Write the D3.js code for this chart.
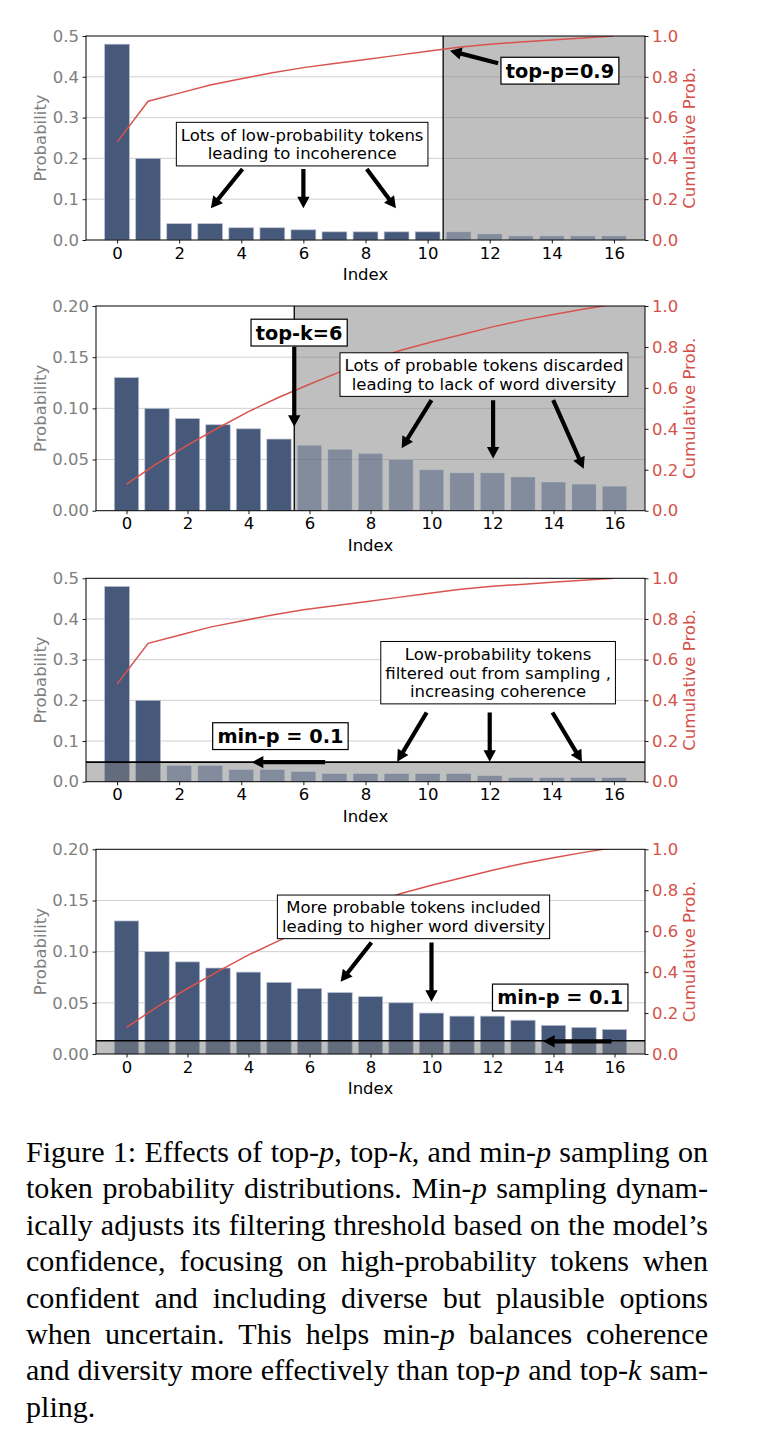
<!DOCTYPE html>
<html><head><meta charset="utf-8">
<script src="https://cdn.jsdelivr.net/npm/d3@7"></script>
<style>body{margin:0;background:#fff}svg{display:block}</style>
</head><body>
<svg id="c" width="764" height="1450"></svg>
<script>
// ---------------- data ----------------
const tokenIndex = [0,1,2,3,4,5,6,7,8,9,10,11,12,13,14,15,16];
const probPeaked = [0.48,0.20,0.04,0.04,0.03,0.03,0.025,0.02,0.02,0.02,0.02,0.02,0.015,0.01,0.01,0.01,0.01];
const probFlat   = [0.13,0.10,0.09,0.084,0.08,0.07,0.064,0.06,0.056,0.05,0.04,0.037,0.037,0.033,0.028,0.026,0.024];
const xTickValues = [0,2,4,6,8,10,12,14,16];
const yTicksPeaked = [0,0.1,0.2,0.3,0.4,0.5];
const yTicksFlat = [0,0.05,0.10,0.15,0.20];
const yTicksCum = [0,0.2,0.4,0.6,0.8,1.0];
const topP = 0.9, topK = 6, minP = 0.1;

const captionLines = [
  "Figure 1: Effects of top-{p}, top-{k}, and min-{p} sampling on",
  "token probability distributions. Min-{p} sampling dynam-",
  "ically adjusts its filtering threshold based on the model’s",
  "confidence, focusing on high-probability tokens when",
  "confident and including diverse but plausible options",
  "when uncertain. This helps min-{p} balances coherence",
  "and diversity more effectively than top-{p} and top-{k} sam-",
  "pling."
];

// ---------------- style ----------------
const FONT = "DejaVu Sans, sans-serif";
const NAVY = "#46597a";
const RED = "#d4524a";
const svg = d3.select("#c");

const panels = [
  { box:{l:86,r:645,t:36,b:240}, probs:probPeaked, yMax:0.5, yTicks:yTicksPeaked, fmt:d3.format(".1f"),
    keep:i=>i<=10, vshade:10.5,
    notes:[{text:["Lots of low-probability tokens","leading to incoherence"], x:5.96, y:0.235}],
    labels:[{text:"top-p=0.9", x:14.26, y:0.415}],
    arrows:[[4.04,0.174,3.02,0.078],[6.0,0.174,6.0,0.078],[8.04,0.174,8.98,0.078],[12.27,0.433,10.72,0.464]] },
  { box:{l:96,r:645,t:306,b:510.7}, probs:probFlat, yMax:0.2, yTicks:yTicksFlat, fmt:d3.format(".2f"),
    keep:i=>i<topK, vshade:topK-0.5,
    notes:[{text:["Lots of probable tokens discarded","leading to lack of word diversity"], x:11.72, y:0.133}],
    labels:[{text:"top-k=6", x:5.66, y:0.174}],
    arrows:[[5.5,0.160,5.5,0.082],[10.0,0.108,9.02,0.061],[12.02,0.108,12.02,0.051],[13.99,0.108,14.99,0.041]] },
  { box:{l:86,r:645,t:578.3,b:781.7}, probs:probPeaked, yMax:0.5, yTicks:yTicksPeaked, fmt:d3.format(".1f"),
    hshade:minP*d3.max(probPeaked), keepMin:true,
    notes:[{text:["Low-probability tokens","filtered out from sampling ,","increasing coherence"], x:12.27, y:0.268}],
    labels:[{text:"min-p = 0.1", x:5.26, y:0.112}],
    arrows:[[6.7,0.048,4.34,0.048],[9.97,0.17,9.02,0.049],[12.0,0.17,12.0,0.049],[14.02,0.17,14.97,0.049]] },
  { box:{l:96,r:645,t:849.3,b:1054}, probs:probFlat, yMax:0.2, yTicks:yTicksFlat, fmt:d3.format(".2f"),
    hshade:minP*d3.max(probFlat), keepMin:true,
    notes:[{text:["More probable tokens included","leading to higher word diversity"], x:9.41, y:0.134}],
    labels:[{text:"min-p = 0.1", x:14.22, y:0.0552}],
    arrows:[[8.03,0.109,7.02,0.0706],[10.0,0.109,10.0,0.051],[15.9,0.0124,13.66,0.0124]] }
];

function drawArrow(g, x1, y1, x2, y2){
  const dx=x2-x1, dy=y2-y1, L=Math.hypot(dx,dy), ux=dx/L, uy=dy/L, px=-uy, py=ux;
  const hl=11.5, hw=6.2, sw=2.1;
  const bx=x2-ux*hl, by=y2-uy*hl;
  const pts=[[x1+px*sw,y1+py*sw],[bx+px*sw,by+py*sw],[bx+px*hw,by+py*hw],[x2,y2],
             [bx-px*hw,by-py*hw],[bx-px*sw,by-py*sw],[x1-px*sw,y1-py*sw]];
  g.append("polygon").attr("points",pts.map(p=>p.join(",")).join(" ")).attr("fill","#000");
}

panels.forEach((P, pi) => {
  const {l,r,t,b} = P.box;
  const x = d3.scaleLinear().domain([-1,17]).range([l,r]);
  const y = d3.scaleLinear().domain([0,P.yMax]).range([b,t]);
  const yc = d3.scaleLinear().domain([0,1]).range([b,t]);
  const g = svg.append("g");
  const cid = "clip"+pi;
  svg.append("clipPath").attr("id",cid).append("rect").attr("x",l).attr("y",t).attr("width",r-l).attr("height",b-t);
  const keep = P.keepMin ? (i => P.probs[i] >= P.hshade) : P.keep;

  // grid
  g.append("g").selectAll("line").data(P.yTicks.slice(1,-1)).join("line")
    .attr("x1",l).attr("x2",r).attr("y1",d=>y(d)).attr("y2",d=>y(d))
    .attr("stroke","#d0d0d0").attr("stroke-width",1);

  const bw = 0.8;
  g.append("g").selectAll("rect").data(tokenIndex.filter(i=>keep(i))).join("rect")
    .attr("x",d=>x(d-bw/2)).attr("width",x(bw)-x(0))
    .attr("y",d=>y(P.probs[d])).attr("height",d=>y(0)-y(P.probs[d]))
    .attr("fill",NAVY).attr("stroke","#b9c3d3").attr("stroke-width",0.7);

  // shade overlay
  if (P.vshade !== undefined){
    g.append("rect").attr("x",x(P.vshade)).attr("y",t).attr("width",r-x(P.vshade)).attr("height",b-t)
      .attr("fill","#808080").attr("fill-opacity",0.5);
  }
  if (P.hshade !== undefined){
    g.append("rect").attr("x",l).attr("y",y(P.hshade)).attr("width",r-l).attr("height",b-y(P.hshade))
      .attr("fill","#808080").attr("fill-opacity",0.5);
  }
  // excluded bars
  g.append("g").selectAll("rect").data(tokenIndex.filter(i=>!keep(i))).join("rect")
    .attr("x",d=>x(d-bw/2)).attr("width",x(bw)-x(0))
    .attr("y",d=>y(P.probs[d])).attr("height",d=>y(0)-y(P.probs[d]))
    .attr("fill",NAVY).attr("fill-opacity",0.5).attr("stroke","#c4cad4").attr("stroke-opacity",0.5).attr("stroke-width",0.7);

  // threshold lines
  if (P.vshade !== undefined){
    g.append("line").attr("x1",x(P.vshade)).attr("x2",x(P.vshade)).attr("y1",t).attr("y2",b).attr("stroke","#000").attr("stroke-width",1.3);
  }
  if (P.hshade !== undefined){
    g.append("line").attr("x1",l).attr("x2",r).attr("y1",y(P.hshade)).attr("y2",y(P.hshade)).attr("stroke","#000").attr("stroke-width",1.6);
  }

  // cumulative line
  const cum = d3.cumsum(P.probs);
  g.append("path").attr("clip-path",`url(#${cid})`)
    .attr("d", d3.line().x((d,i)=>x(tokenIndex[i])).y(d=>yc(d))(Array.from(cum)))
    .attr("fill","none").attr("stroke","#d9534f").attr("stroke-width",1.5);

  // spines
  g.append("rect").attr("x",l).attr("y",t).attr("width",r-l).attr("height",b-t)
    .attr("fill","none").attr("stroke","#000").attr("stroke-width",1);

  // axes
  const ax = g.append("g").attr("transform",`translate(0,${b})`)
    .call(d3.axisBottom(x).tickValues(xTickValues).tickFormat(d3.format("d")).tickSize(3.5).tickPadding(3.5).tickSizeOuter(0));
  const ayl = g.append("g").attr("transform",`translate(${l},0)`)
    .call(d3.axisLeft(y).tickValues(P.yTicks).tickFormat(P.fmt).tickSize(3.5).tickPadding(3.5).tickSizeOuter(0));
  const ayr = g.append("g").attr("transform",`translate(${r},0)`)
    .call(d3.axisRight(yc).tickValues(yTicksCum).tickFormat(d3.format(".1f")).tickSize(3.5).tickPadding(3.5).tickSizeOuter(0));
  [ax,ayl,ayr].forEach(a=>{
    a.select(".domain").remove();
    a.selectAll("line").attr("stroke","#000").attr("stroke-width",0.9);
    a.selectAll("text").attr("font-family",FONT).attr("font-size","16.5px");
  });
  ax.selectAll("text").attr("fill","#000");
  ayl.selectAll("text").attr("fill","#7f7f7f");
  ayr.selectAll("text").attr("fill",RED);

  // axis labels
  g.append("text").attr("x",(l+r)/2).attr("y",b+40).attr("text-anchor","middle")
    .attr("font-family",FONT).attr("font-size","16.5px").attr("fill","#000").text("Index");
  g.append("text").attr("transform",`translate(40,${(t+b)/2}) rotate(-90)`).attr("text-anchor","middle").attr("dy","0.35em")
    .attr("font-family",FONT).attr("font-size","16.5px").attr("fill","#7f7f7f").text("Probability");
  g.append("text").attr("transform",`translate(689,${(t+b)/2}) rotate(-90)`).attr("text-anchor","middle").attr("dy","0.35em")
    .attr("font-family",FONT).attr("font-size","16.5px").attr("fill",RED).text("Cumulative Prob.");

  // arrows
  P.arrows.forEach(a => drawArrow(g, x(a[0]), y(a[1]), x(a[2]), y(a[3])));

  // text notes
  P.notes.forEach(n => {
    const cx = x(n.x), cy = y(n.y), lh = 18.8, nl = n.text.length;
    const ng = g.append("g");
    const bg = ng.append("rect");
    const tx = ng.append("text").attr("font-family",FONT).attr("font-size","16.5px").attr("text-anchor","middle").attr("fill","#000");
    n.text.forEach((s,k)=>{
      tx.append("tspan").attr("x",cx).attr("y",cy+(k-(nl-1)/2)*lh).attr("dy","0.36em").text(s);
    });
    const bb = tx.node().getBBox();
    const w = bb.width + 9, h = nl*lh + 6;
    bg.attr("x",cx-w/2).attr("y",cy-h/2).attr("width",w).attr("height",h).attr("fill","#fff").attr("stroke","#000").attr("stroke-width",1);
  });
  P.labels.forEach(n => {
    const cx = x(n.x), cy = y(n.y);
    const ng = g.append("g");
    const bg = ng.append("rect");
    const tx = ng.append("text").attr("x",cx).attr("y",cy).attr("dy","0.36em").attr("text-anchor","middle")
      .attr("font-family",FONT).attr("font-size","19.3px").attr("font-weight","bold").attr("fill","#000").text(n.text);
    const bb = tx.node().getBBox();
    const w = bb.width + 9.5, h = 26.8;
    bg.attr("x",cx-w/2).attr("y",cy-h/2).attr("width",w).attr("height",h).attr("fill","#fff").attr("stroke","#000").attr("stroke-width",1.2);
  });
});

// ---------------- caption ----------------
const CAP_FONT = "Liberation Serif, Times New Roman, serif";
const capL = 26, capR = 708, capBase = 1162, capLH = 36.4;
const capG = svg.append("g");
function addWord(parent, word, size){
  const tx = parent.append("text").attr("font-family",CAP_FONT).attr("font-size",size+"px").attr("fill","#000");
  const parts = word.split(/(\{[^}]*\})/).filter(s=>s.length);
  parts.forEach(p=>{
    if (p.startsWith("{")) tx.append("tspan").attr("font-style","italic").text(p.slice(1,-1));
    else tx.append("tspan").text(p);
  });
  return tx;
}
// fit font size so the widest justified line has roughly normal word spacing
const probeSize = 27.5;
const probe = svg.append("g");
const naturals = captionLines.slice(0,-1).map(line => {
  const words = line.split(" ");
  const w = d3.sum(words, wd => addWord(probe, wd, probeSize).node().getComputedTextLength());
  return w + (words.length-1)*probeSize*0.25;
});
probe.remove();
const capSize = probeSize * (capR-capL) / d3.max(naturals) * 0.995;

captionLines.forEach((line, li) => {
  const yb = capBase + li*capLH;
  const words = line.split(" ");
  const nodes = words.map(w => addWord(capG, w, capSize).attr("y", yb));
  const widths = nodes.map(n => n.node().getComputedTextLength());
  const total = d3.sum(widths);
  const last = li === captionLines.length-1;
  const gap = last || words.length<2 ? capSize*0.25 : (capR-capL-total)/(words.length-1);
  let cx = capL;
  nodes.forEach((n,k)=>{ n.attr("x",cx); cx += widths[k] + gap; });
});
</script>
</body></html>
